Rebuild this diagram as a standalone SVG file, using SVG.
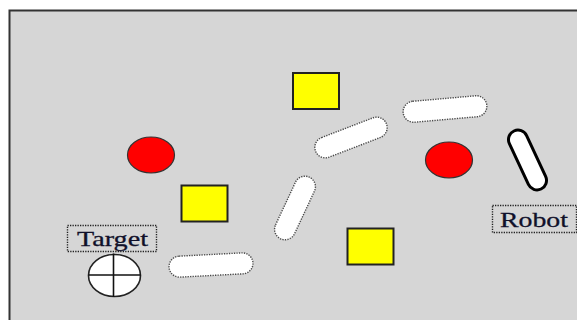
<svg xmlns="http://www.w3.org/2000/svg" width="577" height="320" viewBox="0 0 577 320">
  <style>
    .wall { fill: #ffffff; stroke: #4a4a4a; stroke-width: 1.4; stroke-dasharray: 1.3 1.2; }
    .box { fill: #ffff00; stroke: #222222; stroke-width: 2; }
    .ball { fill: #ff0000; stroke: #333333; stroke-width: 1.2; }
    .label { fill: none; stroke: #222222; stroke-width: 1.4; stroke-dasharray: 1.3 1.2; }
    .txt { font-family: "Liberation Serif", "Times New Roman", serif; font-size: 22px; fill: #10102a; stroke: #10102a; stroke-width: 0.3; }
  </style>
  <rect x="0" y="0" width="577" height="320" fill="#ffffff"/>
  <rect id="field" x="9.5" y="10.5" width="620" height="340" fill="#d6d6d6" stroke="#333333" stroke-width="2"/>

  <g id="obstacles">
    <rect id="box1" class="box" x="293" y="73" width="46" height="36"/>
    <rect id="box2" class="box" x="181.5" y="185.5" width="46" height="36"/>
    <rect id="box3" class="box" x="347.5" y="228.5" width="46" height="36"/>
    <ellipse id="ball1" class="ball" cx="151" cy="155" rx="23.5" ry="18"/>
    <ellipse id="ball2" class="ball" cx="449" cy="160" rx="23.5" ry="18"/>
  </g>

  <g id="walls">
    <rect id="wall1" class="wall" x="-42" y="-10.5" width="84" height="21" rx="10.5" transform="translate(211 265) rotate(-3)"/>
    <rect id="wall2" class="wall" x="-34" y="-10.5" width="68" height="21" rx="10.5" transform="translate(295 208) rotate(-65)"/>
    <rect id="wall3" class="wall" x="-38" y="-10.5" width="76" height="21" rx="10.5" transform="translate(351 137.5) rotate(-21)"/>
    <rect id="wall4" class="wall" x="-42" y="-10.5" width="84" height="21" rx="10.5" transform="translate(445 109) rotate(-5)"/>
  </g>

  <g id="robot">
    <rect x="-32" y="-9.5" width="64" height="19" rx="9.5" transform="translate(527.5 160) rotate(65)" fill="#ffffff" stroke="#000000" stroke-width="3"/>
  </g>
  <g id="robot-label">
    <rect class="label" x="492.5" y="205.5" width="84" height="27"/>
    <text class="txt" x="500" y="227" textLength="68" lengthAdjust="spacingAndGlyphs">Robot</text>
  </g>

  <g id="target">
    <ellipse cx="114.5" cy="275.5" rx="26" ry="21" fill="#ffffff" stroke="#222222" stroke-width="1.6"/>
    <line x1="88.5" y1="275" x2="140.5" y2="275" stroke="#111111" stroke-width="1.6"/>
    <line x1="113.5" y1="253.5" x2="113.5" y2="297" stroke="#111111" stroke-width="1.6"/>
  </g>
  <g id="target-label">
    <rect class="label" x="67.5" y="225.5" width="89" height="26"/>
    <text class="txt" x="77" y="246" textLength="71" lengthAdjust="spacingAndGlyphs">Target</text>
  </g>
</svg>
